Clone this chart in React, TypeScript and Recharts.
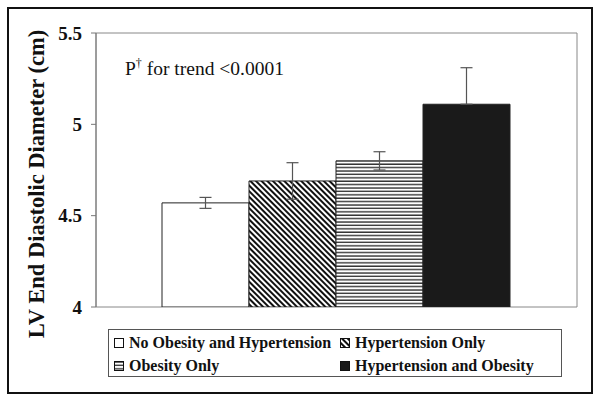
import React from 'react';
import { BarChart, Bar, XAxis, YAxis, ErrorBar, ReferenceArea, Label } from 'recharts';

// group means (cm) and their error whiskers (lower, upper) as drawn
const groups = ['No Obesity and Hypertension', 'Hypertension Only', 'Obesity Only', 'Hypertension and Obesity'];
const keys = ['none', 'htn', 'ob', 'both'];
const means = [4.57, 4.69, 4.8, 5.11];
const errLow = [0.03, 0.1, 0.05, 0];
const errHigh = [0.03, 0.1, 0.05, 0.2];
const fills = ['#ffffff', 'url(#diagStripe)', 'url(#horizStripe)', '#1a1a1a'];
const yTicks = [4, 4.5, 5, 5.5];

const row: Record<string, any> = { name: 'all' };
keys.forEach((k, i) => {
  row[k] = means[i];
  row[k + 'Err'] = [errLow[i], errHigh[i]];
});
const data = [row];

const serif = 'Liberation Serif';

const YLabel = () => (
  <text
    x={36}
    y={184}
    transform="rotate(-90 36 184)"
    textAnchor="middle"
    dominantBaseline="central"
    fontFamily={serif}
    fontWeight="bold"
    fontSize={22.5}
    fill="#111"
  >
    LV End Diastolic Diameter (cm)
  </text>
);

const YTick = (props: any) => {
  const { x, y, payload } = props;
  return (
    <text x={x} y={y} textAnchor="end" dominantBaseline="central" fontFamily={serif} fontWeight="bold" fontSize={19} fill="#111">
      {payload.value}
    </text>
  );
};

const Swatch: React.FC<{ fill: string }> = ({ fill }) => (
  <svg width={10} height={10} style={{ marginRight: 5, flexShrink: 0 }}>
    <rect x={0.5} y={0.5} width={9} height={9} fill={fill} stroke="#111" strokeWidth={1} />
  </svg>
);

const App: React.FC = () => {
  return (
    <div style={{ position: 'absolute', left: 0, top: 0, width: 600, height: 402, background: '#fff', fontFamily: serif }}>
      <svg width={0} height={0} style={{ position: 'absolute' }}>
        <defs>
          <pattern id="diagStripe" patternUnits="userSpaceOnUse" width={4} height={4} patternTransform="rotate(-45)">
            <rect width={4} height={4} fill="#fff" />
            <line x1={1} y1={0} x2={1} y2={4} stroke="#111" strokeWidth={2} />
          </pattern>
          <pattern id="horizStripe" patternUnits="userSpaceOnUse" width={4} height={3.4}>
            <rect width={4} height={3.4} fill="#fff" />
            <line x1={0} y1={1} x2={4} y2={1} stroke="#222" strokeWidth={1.3} />
          </pattern>
        </defs>
      </svg>
      <div
        style={{
          position: 'absolute',
          left: 7,
          top: 7,
          width: 582,
          height: 383,
          border: '2px solid #111',
        }}
      />
      <div style={{ position: 'absolute', left: 0, top: 0 }}>
        <BarChart
          width={600}
          height={402}
          data={data}
          margin={{ top: 33, right: 23, bottom: 95, left: 0 }}
          barCategoryGap={66}
          barGap={0}
        >
          <XAxis dataKey="name" hide />
          <YAxis
            width={96}
            domain={[4, 5.5]}
            ticks={yTicks}
            allowDataOverflow
            axisLine={{ stroke: '#777' }}
            tickLine={{ stroke: '#777' }}
            tickSize={5}
            tickMargin={9}
            tick={<YTick />}
          >
            <Label content={<YLabel />} />
          </YAxis>
          <ReferenceArea y1={4} y2={5.5} fill="none" stroke="#888" strokeWidth={1} ifOverflow="visible" />
          {keys.map((k, i) => (
            <Bar key={k} dataKey={k} fill={fills[i]} stroke="#222" strokeWidth={1} isAnimationActive={false}>
              <ErrorBar dataKey={k + 'Err'} width={6} stroke="#555" strokeWidth={1.2} direction="y" />
            </Bar>
          ))}
        </BarChart>
      </div>
      <div
        style={{
          position: 'absolute',
          left: 125,
          top: 52,
          fontFamily: serif,
          fontSize: 19.5,
          lineHeight: '22px',
          color: '#111',
          whiteSpace: 'nowrap',
        }}
      >
        P<sup style={{ fontSize: 12 }}>†</sup> for trend &lt;0.0001
      </div>
      <div
        style={{
          position: 'absolute',
          left: 108,
          top: 329,
          width: 452,
          height: 46,
          border: '1px solid #555',
          fontFamily: serif,
          fontWeight: 'bold',
          fontSize: 16,
          color: '#111',
        }}
      >
        {groups.map((label, g) => {
          const col = g % 2;
          const r = Math.floor(g / 2);
          return (
            <div
              key={label}
              style={{
                position: 'absolute',
                left: col === 0 ? 5 : 231,
                top: 4 + r * 23,
                display: 'flex',
                alignItems: 'center',
                whiteSpace: 'nowrap',
                lineHeight: '18px',
              }}
            >
              <Swatch fill={fills[g]} />
              {label}
            </div>
          );
        })}
      </div>
    </div>
  );
};

export default App;
